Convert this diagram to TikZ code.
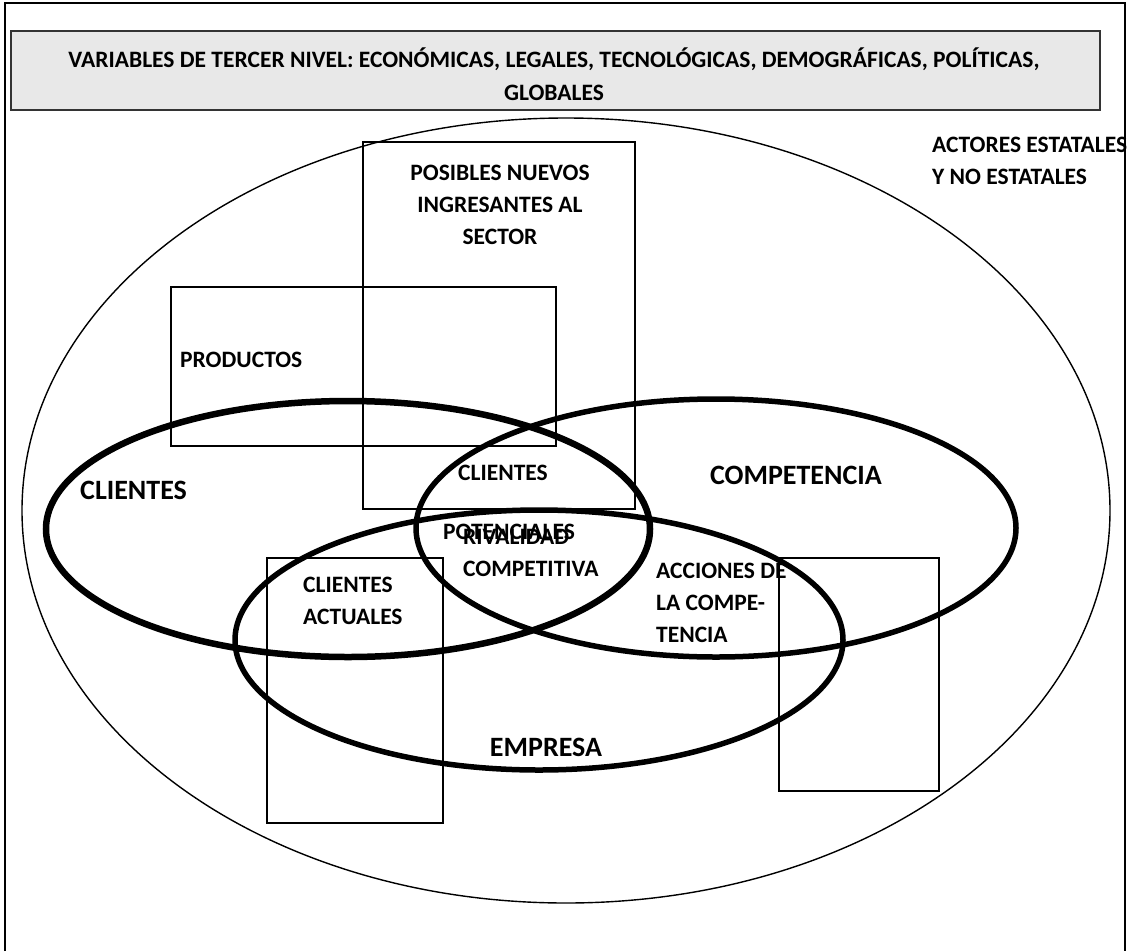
\documentclass[tikz,border=0pt]{standalone}
\usepackage{fontspec}
\setmainfont{Carlito}
\begin{document}
\begin{tikzpicture}[x=1pt,y=-1pt,
  frame/.style={draw=black,line width=2pt},
  titlebox/.style={draw=black!80,fill=black!9,line width=1.8pt},
  rect/.style={draw=black,line width=1.4pt},
  outer/.style={draw=black,line width=1.4pt},
  ring/.style={draw=black,line width=5.5pt},
  lbl/.style={font=\bfseries\fontsize{23.5}{32}\selectfont,inner sep=0pt},
  biglbl/.style={font=\bfseries\fontsize{28}{34}\selectfont,inner sep=0pt},
  ttl/.style={font=\bfseries\fontsize{23.5}{33}\selectfont,inner sep=0pt,align=center}]
\useasboundingbox (0,0) rectangle (1133,951);
\fill[white] (0,0) rectangle (1133,951);
% title
\draw[titlebox] (11,31) rectangle (1100,110);
\node[ttl] (title) at (554,74.5) {VARIABLES DE TERCER NIVEL: ECONÓMICAS, LEGALES, TECNOLÓGICAS, DEMOGRÁFICAS, POLÍTICAS,\\GLOBALES};
% big ellipse
\draw[outer] (566,510.5) ellipse [x radius=544, y radius=392.5];
% rectangles
\draw[rect] (363,142) rectangle (635,509);
\draw[rect] (171,287) rectangle (556,446);
\draw[rect] (267,558) rectangle (443,823);
\draw[rect] (779,558) rectangle (939,791);
% thick ellipses
\draw[ring,line width=6.5pt] (348,529) ellipse [x radius=302, y radius=128];
\draw[ring] (716,528) ellipse [x radius=300, y radius=129];
\draw[ring] (539,640) ellipse [x radius=304, y radius=130];
% labels
\node[lbl,anchor=west,align=left] (actores) at (932,161) {ACTORES ESTATALES\\Y NO ESTATALES};
\node[lbl,align=center] (nuevos) at (500,205) {POSIBLES NUEVOS\\INGRESANTES AL\\SECTOR};
\node[lbl,anchor=west] (productos) at (180,360) {PRODUCTOS};
\node[biglbl,anchor=west] (clientes) at (80,490) {CLIENTES};
\node[lbl] (clipot) at (503,473) {CLIENTES};
\node[lbl] (potenciales) at (509,532) {POTENCIALES};
\node[lbl,anchor=west,align=left] (rivalidad) at (463,553) {RIVALIDAD\\COMPETITIVA};
\node[biglbl,anchor=east] (competencia) at (882,475) {COMPETENCIA};
\node[lbl,anchor=west,align=left] (actuales) at (303,601) {CLIENTES\\ACTUALES};
\node[lbl,anchor=west,align=left] (acciones) at (656,602.5) {ACCIONES DE\\LA COMPE-\\TENCIA};
\node[biglbl] (empresa) at (546,747) {EMPRESA};
% outer frame
\draw[frame] (5,951) -- (5,3) -- (1125,3) -- (1125,951);
\end{tikzpicture}
\end{document}
